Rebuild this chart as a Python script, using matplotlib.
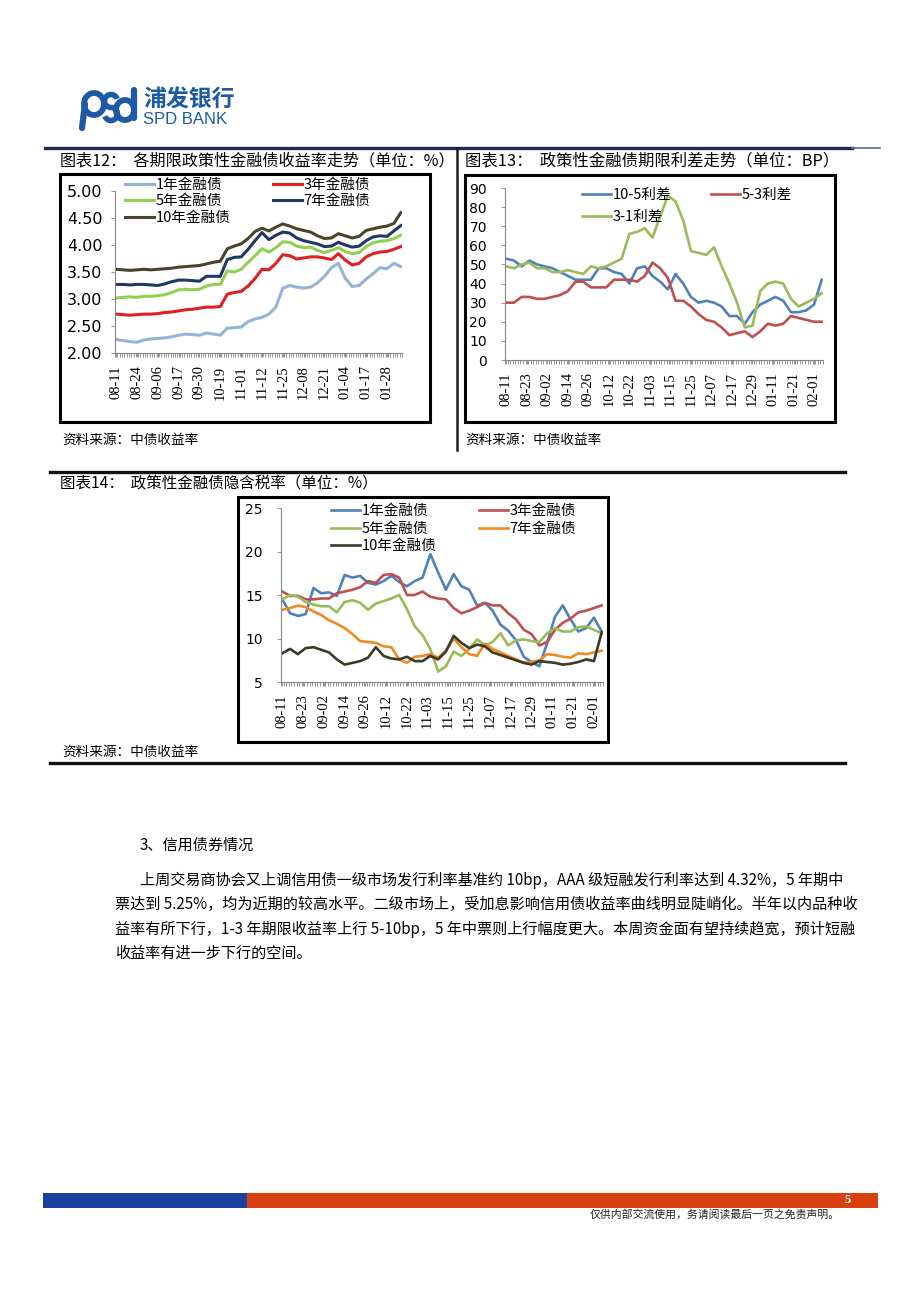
import numpy as np
import matplotlib
matplotlib.use('Agg')
import matplotlib.pyplot as plt
from matplotlib.patches import Rectangle, Arc

plt.rcParams['font.family'] = ['Noto Sans CJK SC', 'DejaVu Sans']
plt.rcParams['axes.unicode_minus'] = False

# ---------------- data (every 3rd trading day) ----------------
idx = np.arange(0, 124, 3)

labels12 = ['08-11', '08-24', '09-06', '09-17', '09-30', '10-19', '11-01',
            '11-12', '11-25', '12-08', '12-21', '01-04', '01-17', '01-28']
labels1314 = ['08-11', '08-23', '09-02', '09-14', '09-26', '10-12', '10-22', '11-03',
              '11-15', '11-25', '12-07', '12-17', '12-29', '01-11', '01-21', '02-01']

# 图表12 收益率 (%)
yld_1y = [2.25, 2.23, 2.21, 2.20, 2.24, 2.26, 2.27, 2.28, 2.30, 2.33,
          2.35, 2.34, 2.33, 2.37, 2.35, 2.33, 2.46, 2.47, 2.48, 2.58,
          2.63, 2.66, 2.72, 2.85, 3.20, 3.25, 3.22, 3.20, 3.22, 3.30,
          3.42, 3.58, 3.66, 3.38, 3.23, 3.25, 3.37, 3.47, 3.58, 3.56,
          3.66, 3.60]
yld_3y = [2.72, 2.71, 2.70, 2.71, 2.72, 2.72, 2.73, 2.75, 2.76, 2.78,
          2.80, 2.81, 2.83, 2.85, 2.85, 2.86, 3.09, 3.12, 3.14, 3.24,
          3.38, 3.55, 3.54, 3.66, 3.82, 3.80, 3.74, 3.76, 3.78, 3.78,
          3.76, 3.73, 3.84, 3.72, 3.63, 3.66, 3.78, 3.84, 3.87, 3.88,
          3.92, 3.97]
yld_5y = [3.02, 3.03, 3.04, 3.03, 3.05, 3.05, 3.06, 3.08, 3.12, 3.17,
          3.18, 3.17, 3.18, 3.24, 3.27, 3.27, 3.52, 3.50, 3.55, 3.68,
          3.80, 3.93, 3.87, 3.95, 4.06, 4.05, 3.98, 3.95, 3.96, 3.90,
          3.86, 3.90, 3.95, 3.88, 3.84, 3.86, 3.97, 4.04, 4.07, 4.08,
          4.12, 4.18]
yld_7y = [3.27, 3.27, 3.26, 3.27, 3.27, 3.26, 3.25, 3.28, 3.32, 3.35,
          3.35, 3.34, 3.33, 3.42, 3.42, 3.42, 3.73, 3.77, 3.78, 3.92,
          4.08, 4.23, 4.10, 4.18, 4.24, 4.22, 4.13, 4.08, 4.05, 4.02,
          3.97, 3.98, 4.05, 4.00, 3.96, 3.98, 4.08, 4.15, 4.17, 4.16,
          4.26, 4.36]
yld_10y = [3.55, 3.54, 3.53, 3.54, 3.55, 3.54, 3.55, 3.56, 3.57, 3.59,
           3.60, 3.61, 3.62, 3.65, 3.68, 3.70, 3.93, 3.98, 4.02, 4.12,
           4.25, 4.31, 4.26, 4.33, 4.39, 4.35, 4.30, 4.27, 4.24, 4.17,
           4.12, 4.13, 4.21, 4.17, 4.13, 4.16, 4.27, 4.30, 4.33, 4.35,
           4.40, 4.60]

# 图表13 期限利差 (BP)
sp_10_5 = [53, 52, 49, 52, 50, 49, 48, 46, 44, 42,
           42, 42, 48, 48, 46, 45, 40, 48, 49, 44,
           41, 37, 45, 40, 33, 30, 31, 30, 28, 23,
           23, 19, 25, 29, 31, 33, 31, 25, 25, 26,
           29, 42]
sp_5_3 = [30, 30, 33, 33, 32, 32, 33, 34, 36, 41,
          41, 38, 38, 38, 42, 42, 42, 41, 44, 51,
          48, 43, 31, 31, 28, 24, 21, 20, 17, 13,
          14, 15, 12, 15, 19, 18, 19, 23, 22, 21,
          20, 20]
sp_3_1 = [49, 48, 50, 51, 48, 48, 46, 46, 47, 46,
          45, 49, 48, 49, 51, 53, 66, 67, 69, 64,
          75, 86, 83, 73, 57, 56, 55, 59, 49, 40,
          30, 17, 18, 36, 40, 41, 40, 32, 28, 30,
          32, 35]

# 图表14 隐含税率 (%)
tax_1y = [14.5, 12.9, 12.6, 12.8, 15.8, 15.2, 15.3, 14.9, 17.3, 17.0,
          17.2, 16.4, 16.2, 16.6, 17.2, 16.5, 16.0, 16.6, 17.0, 19.7,
          17.6, 15.6, 17.4, 16.0, 15.6, 13.8, 14.1, 13.2, 11.6, 10.9,
          9.8, 7.9, 7.3, 6.8, 9.5, 12.5, 13.8, 12.2, 10.8, 11.2,
          12.4, 10.8]
tax_3y = [15.4, 14.9, 14.9, 14.5, 14.5, 14.6, 14.6, 15.2, 15.4, 15.6,
          15.9, 16.6, 16.4, 17.3, 17.4, 17.0, 15.0, 15.0, 15.4, 14.8,
          14.6, 14.5, 13.5, 12.9, 13.2, 13.6, 14.1, 13.8, 13.8, 12.9,
          12.2, 11.0, 10.5, 9.2, 9.6, 11.0, 11.8, 12.3, 13.0, 13.2,
          13.5, 13.8]
tax_5y = [14.5, 15.0, 14.8, 14.2, 13.9, 13.7, 13.7, 13.0, 14.2, 14.4,
          14.1, 13.3, 14.0, 14.3, 14.6, 15.0, 13.4, 11.4, 10.4, 8.8,
          6.2, 6.8, 8.5, 8.0, 8.8, 9.9, 9.2, 9.6, 10.6, 9.2,
          9.8, 9.9, 9.7, 9.6, 10.6, 11.2, 10.8, 10.8, 11.3, 11.4,
          11.0, 10.6]
tax_7y = [13.3, 13.5, 13.8, 13.6, 13.1, 12.7, 12.1, 11.7, 11.2, 10.5,
          9.7, 9.6, 9.5, 9.1, 9.0, 7.6, 7.2, 7.9, 8.0, 8.2,
          7.8, 8.6, 10.0, 9.0, 8.2, 8.0, 9.4, 8.8, 8.4, 8.0,
          7.6, 7.2, 7.3, 7.5, 8.2, 8.1, 7.9, 7.8, 8.3, 8.2,
          8.4, 8.6]
tax_10y = [8.3, 8.8, 8.2, 8.9, 9.0, 8.7, 8.4, 7.6, 7.0, 7.2,
           7.4, 7.8, 9.0, 8.0, 7.7, 7.6, 7.9, 7.4, 7.4, 8.0,
           7.6, 8.5, 10.3, 9.5, 8.9, 9.3, 9.1, 8.4, 8.1, 7.8,
           7.5, 7.2, 7.0, 7.4, 7.3, 7.2, 7.0, 7.1, 7.3, 7.6,
           7.4, 10.7]

body_lines = [
    '上周交易商协会又上调信用债一级市场发行利率基准约 10bp，AAA 级短融发行利率达到 4.32%，5 年期中',
    '票达到 5.25%，均为近期的较高水平。二级市场上，受加息影响信用债收益率曲线明显陡峭化。半年以内品种收',
    '益率有所下行，1-3 年期限收益率上行 5-10bp，5 年中票则上行幅度更大。本周资金面有望持续趋宽，预计短融',
    '收益率有进一步下行的空间。',
]

# ---------------- page ----------------
W, H = 920, 1302
fig = plt.figure(figsize=(W / 100, H / 100), dpi=100)
page = fig.add_axes([0, 0, 1, 1])
page.set_xlim(0, W)
page.set_ylim(H, 0)
page.axis('off')

CJK = ['Noto Sans CJK SC', 'DejaVu Sans']
SER = ['Liberation Serif', 'Noto Sans CJK SC']


def rect(l, t, r, b):
    return [l / W, 1 - b / H, (r - l) / W, (b - t) / H]


def fpos(x, y):
    return (x / W, 1 - y / H)


# logo
blue = '#1c5aa8'
page.add_patch(Arc((94, 104), 20, 22, theta1=0, theta2=360, lw=4.2, color=blue))
page.plot([85, 82], [104, 128], color=blue, lw=4.5, solid_capstyle='round')
page.add_patch(Arc((111, 101), 13, 13, theta1=90, theta2=340, lw=4.0, color=blue))
page.add_patch(Arc((111, 114), 13, 13, theta1=-90, theta2=160, lw=4.0, color=blue))
page.add_patch(Arc((125, 110), 18, 20, theta1=0, theta2=360, lw=4.2, color=blue))
page.plot([134, 134], [90, 118], color=blue, lw=4.5, solid_capstyle='round')
page.text(143, 100, '浦发银行', fontsize=16.5, fontweight='bold', color=blue,
          family=CJK, va='center', ha='left')
page.text(143, 119, 'SPD BANK', fontsize=12, color=blue,
          family=['Liberation Sans'], va='center', ha='left')

# frame lines
page.plot([45, 852], [148, 148], color='#1f2a55', lw=2.4)
page.plot([852, 880], [148, 148], color='#5a6a90', lw=1.2)
page.plot([457, 457], [148, 450], color='#1f1f1f', lw=1.8)
page.plot([50, 845], [472, 472], color='#111111', lw=2.4)
page.plot([50, 845], [763, 763], color='#111111', lw=2.4)

# titles and sources
page.text(60, 161, '图表12：  各期限政策性金融债收益率走势（单位：%）', fontsize=11.6,
          family=CJK, va='center')
page.text(465, 161, '图表13：  政策性金融债期限利差走势（单位：BP）', fontsize=11.8,
          family=CJK, va='center')
page.text(60, 484, '图表14：  政策性金融债隐含税率（单位：%）', fontsize=11.2,
          family=CJK, va='center')
for (sx, sy) in [(62, 440), (465, 440), (62, 752)]:
    page.text(sx, sy, '资料来源：中债收益率', fontsize=9.8, family=CJK, va='center')

# chart borders
for (l, t, r, b) in [(60, 174, 430, 422), (465, 175, 835, 422), (238, 497, 608, 742)]:
    page.add_patch(Rectangle((l, t), r - l, b - t, fill=False, ec='black', lw=2.2))

# body text
page.text(140, 845, '3、信用债券情况', fontsize=10.9, family=CJK, va='center')
body_y = [880, 904, 929, 953]
body_x = [140, 115, 115, 115]
for s, bx, by in zip(body_lines, body_x, body_y):
    page.text(bx, by, s, fontsize=10.9, family=CJK, va='center')

# footer
page.add_patch(Rectangle((43, 1193), 204, 15, color='#1b409e', lw=0))
page.add_patch(Rectangle((247, 1193), 631, 15, color='#d8400f', lw=0))
page.text(848, 1200, '5', color='white', fontsize=9, fontweight='bold',
          family=SER, va='center', ha='center')
page.text(840, 1214, '仅供内部交流使用，务请阅读最后一页之免责声明。', fontsize=7.8,
          family=CJK, va='center', ha='right', color='#222222')


# ---------------- charts ----------------
def style(ax, labels, step, n=124, ypad=8, ysize=10):
    ax.set_facecolor('none')
    ax.set_xlim(-0.5, n - 0.5)
    for s in ['top', 'right']:
        ax.spines[s].set_visible(False)
    for s in ['left', 'bottom']:
        ax.spines[s].set_color('#868686')
        ax.spines[s].set_linewidth(0.8)
    ax.set_xticks(np.arange(len(labels)) * step)
    ax.set_xticklabels(labels, rotation=90, family=SER, fontsize=10.5)
    ax.set_xticks(np.arange(-0.5, n, 1), minor=True)
    ax.tick_params(axis='x', which='both', length=3, color='#868686', width=0.6, pad=6)
    ax.tick_params(axis='y', length=3, color='#868686', width=0.6, labelsize=ysize,
                   pad=ypad)
    for t in ax.get_yticklabels():
        t.set_family(['DejaVu Sans'])


def legend(ax, handles, x, y, rowgap, colgap):
    ax.legend(handles=handles, loc='upper left', bbox_to_anchor=fpos(x, y),
              bbox_transform=fig.transFigure, ncol=2, frameon=False, borderpad=0,
              borderaxespad=0, handlelength=2.0, handletextpad=0.1,
              columnspacing=colgap, labelspacing=rowgap,
              prop={'family': CJK, 'size': 10.5})


# 图表12
ax1 = fig.add_axes(rect(115, 191, 402, 353))
lw12 = 2.2
l1, = ax1.plot(idx, yld_1y, color='#95b3d7', lw=lw12, label='1年金融债')
l3, = ax1.plot(idx, yld_3y, color='#e02020', lw=lw12, label='3年金融债')
l5, = ax1.plot(idx, yld_5y, color='#92d050', lw=lw12, label='5年金融债')
l7, = ax1.plot(idx, yld_7y, color='#1f3864', lw=lw12, label='7年金融债')
l10, = ax1.plot(idx, yld_10y, color='#4a452a', lw=lw12, label='10年金融债')
ax1.set_ylim(2.0, 5.0)
ax1.set_yticks(np.arange(2.0, 5.01, 0.5))
ax1.set_yticklabels(['%.2f' % v for v in np.arange(2.0, 5.01, 0.5)])
style(ax1, labels12, 9, ypad=6, ysize=11.5)
legend(ax1, [l1, l5, l10, l3, l7], 125, 178, 0.16, 2.9)

# 图表13
ax2 = fig.add_axes(rect(505, 188, 823, 360))
lw13 = 1.9
m1, = ax2.plot(idx, sp_10_5, color='#4f81bd', lw=lw13, label='10-5利差')
m2, = ax2.plot(idx, sp_5_3, color='#c0504d', lw=lw13, label='5-3利差')
m3, = ax2.plot(idx, sp_3_1, color='#9bbb59', lw=lw13, label='3-1利差')
ax2.set_ylim(0, 90)
ax2.set_yticks(np.arange(0, 91, 10))
style(ax2, labels1314, 8, ypad=10)
legend(ax2, [m1, m3, m2], 582, 188, 0.55, 2.7)

# 图表14
ax3 = fig.add_axes(rect(281, 508, 603, 682))
n1, = ax3.plot(idx, tax_1y, color='#4f81bd', lw=lw13, label='1年金融债')
n3, = ax3.plot(idx, tax_3y, color='#c0504d', lw=lw13, label='3年金融债')
n5, = ax3.plot(idx, tax_5y, color='#9bbb59', lw=lw13, label='5年金融债')
n7, = ax3.plot(idx, tax_7y, color='#f08a24', lw=lw13, label='7年金融债')
n10, = ax3.plot(idx, tax_10y, color='#3d3a26', lw=lw13, label='10年金融债')
ax3.set_ylim(5, 25)
ax3.set_yticks(np.arange(5, 26, 5))
style(ax3, labels1314, 8, ypad=10)
legend(ax3, [n1, n5, n10, n3, n7], 331, 504, 0.25, 2.9)

fig.savefig('out.png', dpi=100)
